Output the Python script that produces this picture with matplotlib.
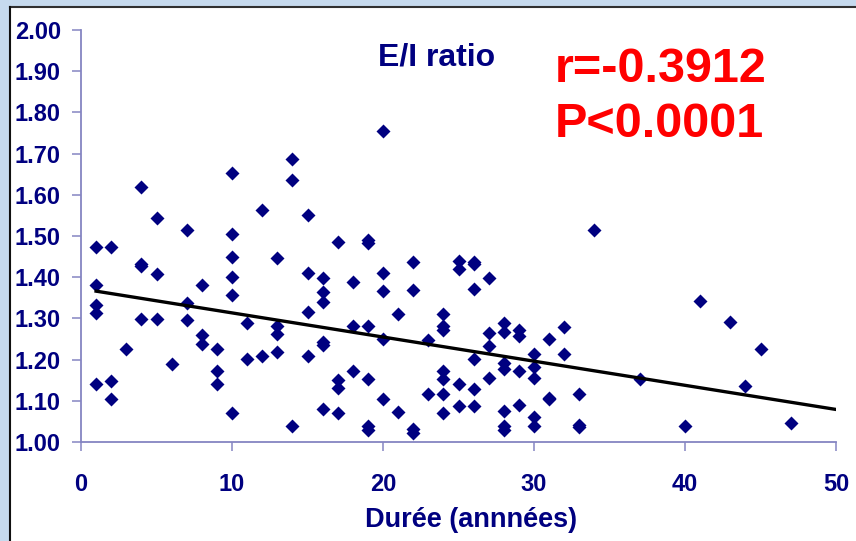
import numpy as np
import matplotlib
matplotlib.use('Agg')
import matplotlib.pyplot as plt
from matplotlib.patches import Rectangle

# years of duration and E/I ratio, grouped by year
duree = ([1]*5 + [2]*3 + [3] + [4]*4 + [5]*3 + [6] + [7]*3 + [8]*3 + [9]*3 +
         [10]*6 + [11]*2 + [12]*2 + [13]*4 + [14]*3 + [15]*4 + [16]*6 + [17]*4 +
         [18]*3 + [19]*6 + [20]*5 + [21]*2 + [22]*4 + [23]*2 + [24]*7 + [25]*4 +
         [26]*6 + [27]*4 + [28]*7 + [29]*4 + [30]*5 + [31]*3 + [32]*2 + [33]*3 +
         [34, 37, 40, 41, 43, 44, 45, 47])
ei_ratio = [1.474, 1.381, 1.332, 1.314, 1.140,
            1.474, 1.149, 1.104,
            1.225,
            1.620, 1.432, 1.428, 1.299,
            1.543, 1.408, 1.299,
            1.189,
            1.515, 1.338, 1.295,
            1.381, 1.260, 1.238,
            1.225, 1.173, 1.140,
            1.654, 1.505, 1.450, 1.401, 1.356, 1.070,
            1.288, 1.201,
            1.563, 1.209,
            1.446, 1.282, 1.262, 1.218,
            1.686, 1.637, 1.038,
            1.550, 1.409, 1.316, 1.209,
            1.397, 1.365, 1.339, 1.242, 1.236, 1.079,
            1.486, 1.150, 1.132, 1.070,
            1.388, 1.282, 1.173,
            1.490, 1.482, 1.282, 1.152, 1.040, 1.030,
            1.755, 1.409, 1.366, 1.250, 1.104,
            1.311, 1.074,
            1.438, 1.368, 1.031, 1.021,
            1.248, 1.116,
            1.311, 1.281, 1.272, 1.173, 1.152, 1.116, 1.071,
            1.439, 1.419, 1.140, 1.087,
            1.438, 1.432, 1.371, 1.201, 1.128, 1.087,
            1.397, 1.265, 1.234, 1.156,
            1.288, 1.268, 1.192, 1.177, 1.075, 1.039, 1.030,
            1.273, 1.257, 1.172, 1.091,
            1.214, 1.181, 1.156, 1.060, 1.038,
            1.251, 1.108, 1.104,
            1.279, 1.214,
            1.116, 1.041, 1.037,
            1.515, 1.152, 1.039, 1.343, 1.291, 1.136, 1.225, 1.045]

# linear trend (intercept, slope per year) and its forecast end
trend_coef = [1.372, -0.00586]
trend_end = 50

x = np.array(duree, dtype=float)
y = np.array(ei_ratio)

navy = '#000080'
axis_col = '#8585c2'

fig = plt.figure(figsize=(8.56, 5.41), dpi=100)
fig.patch.set_facecolor('#c6daee')
# white slide panel with dark top/left edges
fig.patches.append(Rectangle((10/856, 0), 1, 1 - 7/541, transform=fig.transFigure,
                             facecolor='white', edgecolor='none', zorder=-10))
fig.add_artist(plt.Line2D([10/856, 1], [1 - 7/541, 1 - 7/541], transform=fig.transFigure,
                          color='#303030', lw=1.5, zorder=-5))
fig.add_artist(plt.Line2D([10/856, 10/856], [0, 1 - 7/541], transform=fig.transFigure,
                          color='#101010', lw=1.5, zorder=-5))

ax = fig.add_axes([81/856, 1 - 442/541, (836 - 81)/856, (442 - 30)/541])
ax.set_facecolor('none')
ax.set_zorder(2)

ax.plot(x, y, 'D', color=navy, ms=7, mec='none', zorder=3)

xl = np.array([x.min(), trend_end])
ax.plot(xl, trend_coef[0] + trend_coef[1]*xl, color='black', lw=2.4, zorder=4)

ax.set_xlim(0, 50)
ax.set_ylim(1.0, 2.0)
ax.set_xticks(np.arange(0, 51, 10))
ax.set_yticks(np.arange(1.0, 2.01, 0.1))
ax.set_yticklabels(['%.2f' % v for v in np.arange(1.0, 2.01, 0.1)])

ax.spines['right'].set_color('none')
ax.spines['top'].set_color('none')
ax.spines['left'].set_color(axis_col)
ax.spines['bottom'].set_color(axis_col)
ax.spines['left'].set_linewidth(1.3)
ax.spines['bottom'].set_linewidth(1.3)
ax.tick_params(axis='both', direction='out', length=6.5, width=1.1, color=axis_col,
               labelcolor=navy, labelsize=17)
ax.tick_params(axis='y', pad=8)
ax.tick_params(axis='x', pad=16)
for lab in ax.get_xticklabels() + ax.get_yticklabels():
    lab.set_fontweight('bold')
    lab.set_fontfamily('Liberation Sans')

ax.set_xlabel('Durée (annnées)', fontsize=19.5, fontweight='bold', color=navy,
              family='Liberation Sans')
ax.xaxis.set_label_coords((471 - 81)/(836 - 81), -(527 - 442)/(442 - 30))
ax.xaxis.label.set_va('baseline')

fig.text(378/856, 1 - 66/541, 'E/I ratio', fontsize=23, fontweight='bold', color=navy,
         family='Liberation Sans', ha='left', va='baseline')
fig.text(555/856, 1 - 82/541, 'r=-0.3912', fontsize=35, fontweight='bold', color='#ff0000',
         family='Liberation Sans', ha='left', va='baseline')
fig.text(555/856, 1 - 137/541, 'P<0.0001', fontsize=35, fontweight='bold', color='#ff0000',
         family='Liberation Sans', ha='left', va='baseline')

fig.savefig('out.png', dpi=100, facecolor=fig.get_facecolor())
